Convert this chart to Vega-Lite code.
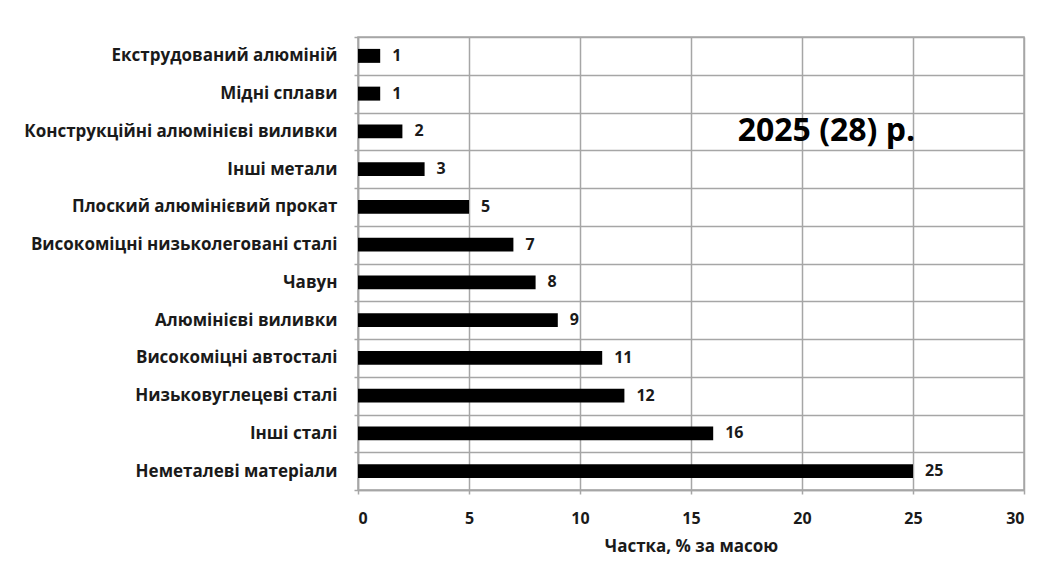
{
  "$schema": "https://vega.github.io/schema/vega-lite/v6.json",
  "autosize": {"type": "none"},
  "width": 666,
  "height": 453,
  "padding": {"left": 358, "top": 37, "right": 23, "bottom": 72},
  "background": "white",
  "config": {
    "font": "Open Sans",
    "view": {"stroke": "#a6a6a6", "strokeWidth": 1.5}
  },
  "datasets": {
    "materials": [
      {"material": "Екструдований алюміній", "share": 1},
      {"material": "Мідні сплави", "share": 1},
      {"material": "Конструкційні алюмінієві виливки", "share": 2},
      {"material": "Інші метали", "share": 3},
      {"material": "Плоский алюмінієвий прокат", "share": 5},
      {"material": "Високоміцні низьколеговані сталі", "share": 7},
      {"material": "Чавун", "share": 8},
      {"material": "Алюмінієві виливки", "share": 9},
      {"material": "Високоміцні автосталі", "share": 11},
      {"material": "Низьковуглецеві сталі", "share": 12},
      {"material": "Інші сталі", "share": 16},
      {"material": "Неметалеві матеріали", "share": 25}
    ],
    "note": [
      {"material": "Конструкційні алюмінієві виливки", "share": 21.1, "label": "2025 (28) р."}
    ]
  },
  "layer": [
    {
      "data": {"name": "materials"},
      "mark": {"type": "bar", "color": "black", "height": {"band": 0.37}},
      "encoding": {
        "y": {
          "field": "material",
          "type": "nominal",
          "sort": null,
          "scale": {"paddingInner": 0, "paddingOuter": 0},
          "axis": {
            "title": null,
            "tickBand": "extent",
            "grid": true,
            "gridColor": "#a6a6a6",
            "gridWidth": 1.5,
            "domainColor": "#a6a6a6",
            "domainWidth": 1.5,
            "tickColor": "#a6a6a6",
            "tickSize": 4,
            "tickWidth": 1.5,
            "labelPadding": 17,
            "labelFont": "Open Sans",
            "labelFontWeight": "bold",
            "labelFontSize": 17,
            "labelColor": "#1a1a1a",
            "labelLimit": 400
          }
        },
        "x": {
          "field": "share",
          "type": "quantitative",
          "scale": {"domain": [0, 30], "nice": false},
          "axis": {
            "title": "Частка, % за масою",
            "values": [0, 5, 10, 15, 20, 25, 30],
            "grid": true,
            "gridColor": "#a6a6a6",
            "gridWidth": 1.5,
            "domainColor": "#a6a6a6",
            "domainWidth": 1.5,
            "tickColor": "#a6a6a6",
            "tickSize": 4,
            "tickWidth": 1.5,
            "labelPadding": 16,
            "labelFont": "Open Sans",
            "labelFontWeight": "bold",
            "labelFontSize": 16,
            "labelColor": "#1a1a1a",
            "titleFont": "Open Sans",
            "titleFontWeight": "bold",
            "titleFontSize": 17,
            "titleColor": "#1a1a1a",
            "titlePadding": 12
          }
        }
      }
    },
    {
      "data": {"name": "materials"},
      "mark": {"type": "text", "align": "left", "baseline": "middle", "dx": 12, "font": "Open Sans", "fontWeight": "bold", "fontSize": 16, "color": "#1a1a1a"},
      "encoding": {
        "y": {"field": "material", "type": "nominal", "sort": null},
        "x": {"field": "share", "type": "quantitative"},
        "text": {"field": "share", "type": "quantitative"}
      }
    },
    {
      "data": {"name": "note"},
      "mark": {"type": "text", "align": "center", "baseline": "middle", "font": "Open Sans", "fontWeight": "bold", "fontSize": 32, "color": "black"},
      "encoding": {
        "y": {"field": "material", "type": "nominal", "sort": null},
        "x": {"field": "share", "type": "quantitative"},
        "text": {"field": "label", "type": "nominal"}
      }
    }
  ]
}
